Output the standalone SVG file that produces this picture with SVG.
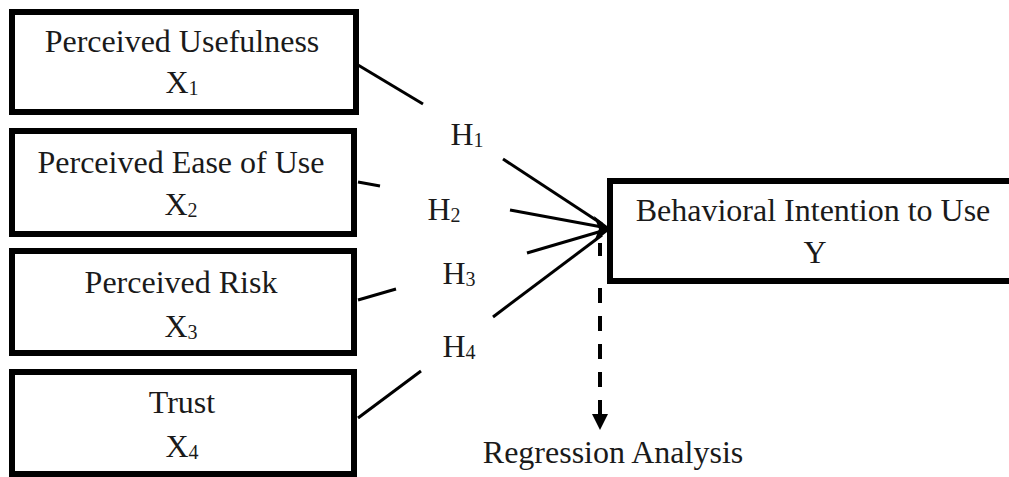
<svg xmlns="http://www.w3.org/2000/svg" width="1009" height="477" viewBox="0 0 1009 477">
<style>
.box{fill:#fff;stroke:#000;stroke-width:6}
.t{font-family:"Liberation Serif","Times New Roman",serif;font-size:32px;fill:#1a1a1a;text-anchor:middle}
.s{font-size:20px}
.c{stroke:#000;stroke-width:3;fill:none;stroke-linecap:butt}
.d{stroke:#000;stroke-width:4;fill:none}
</style>
<rect width="1009" height="477" fill="#fff"/>
<g id="n1">
<rect class="box" x="12" y="12" width="344" height="100"/>
<text class="t" x="182" y="52">Perceived Usefulness</text>
<text class="t" x="182" y="93">X<tspan class="s" dy="2">1</tspan></text>
</g>
<g id="n2">
<rect class="box" x="12" y="131" width="342" height="103"/>
<text class="t" x="181" y="173">Perceived Ease of Use</text>
<text class="t" x="181" y="215">X<tspan class="s" dy="2">2</tspan></text>
</g>
<g id="n3">
<rect class="box" x="12" y="251" width="342" height="102"/>
<text class="t" x="181" y="293">Perceived Risk</text>
<text class="t" x="181" y="337">X<tspan class="s" dy="2">3</tspan></text>
</g>
<g id="n4">
<rect class="box" x="12" y="372" width="342" height="102"/>
<text class="t" x="182" y="413">Trust</text>
<text class="t" x="182" y="457">X<tspan class="s" dy="2">4</tspan></text>
</g>
<g id="ny">
<rect class="box" x="610" y="181" width="420" height="100"/>
<text class="t" x="813" y="221">Behavioral Intention to Use</text>
<text class="t" x="815" y="263">Y</text>
</g>
<g id="connectors">
<line class="c" x1="358" y1="65" x2="423" y2="104"/>
<line class="c" x1="503" y1="159" x2="602" y2="224"/>
<line class="c" x1="358" y1="182" x2="380" y2="186"/>
<line class="c" x1="510" y1="210" x2="602" y2="227"/>
<line class="c" x1="358" y1="300" x2="396" y2="289"/>
<line class="c" x1="527" y1="253" x2="602" y2="231"/>
<line class="c" x1="358" y1="418" x2="421" y2="371"/>
<line class="c" x1="493" y1="317" x2="602" y2="235"/>
<polygon points="611,229 594,216 599,229 594,242" fill="#000"/>
<line class="d" x1="600" y1="243" x2="600" y2="256"/>
<line class="d" x1="600" y1="288" x2="600" y2="416" stroke-dasharray="15 13"/>
<polygon points="592,414 608,414 600,430" fill="#000"/>
</g>
<g id="labels">
<text class="t" x="467" y="145">H<tspan class="s" dy="2">1</tspan></text>
<text class="t" x="444" y="220">H<tspan class="s" dy="2">2</tspan></text>
<text class="t" x="459" y="284">H<tspan class="s" dy="2">3</tspan></text>
<text class="t" x="459" y="357">H<tspan class="s" dy="2">4</tspan></text>
<text class="t" x="613" y="463">Regression Analysis</text>
</g>
</svg>
